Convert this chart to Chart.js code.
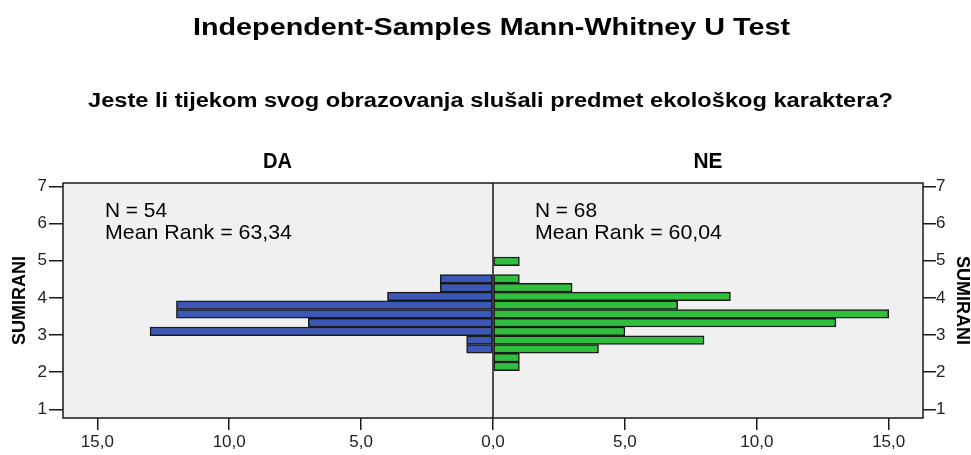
<!DOCTYPE html>
<html>
<head>
<meta charset="utf-8">
<script src="https://cdn.jsdelivr.net/npm/chart.js@4.4.1/dist/chart.umd.min.js"></script>
<style>
  html, body { margin: 0; padding: 0; background: #fff; }
  #wrap { width: 971px; height: 455px; }
</style>
</head>
<body>
<div id="wrap"><canvas id="mwChart" width="971" height="455"></canvas></div>
<script>
// bin centres of SUMIRANI and frequencies per group
const binCenters = [2.155, 2.390, 2.626, 2.861, 3.097, 3.332, 3.567, 3.803, 4.038, 4.274, 4.509, 4.744, 4.980];
const countsDA = [0, 0, 1, 1, 13, 7, 12, 12, 4, 2, 2, 0, 0];
const countsNE = [1, 1, 4, 8, 5, 13, 15, 7, 9, 3, 1, 0, 1];
const xTicks = [-15, -10, -5, 0, 5, 10, 15];
const yTicks = [1, 2, 3, 4, 5, 6, 7];

const FONT = "'Liberation Sans', Arial, sans-serif";

// bars only for non-empty bins, DA goes to the left
const toPoints = (counts, sign) => counts
    .map((c, i) => ({ x: sign * c, y: binCenters[i] }))
    .filter(p => p.x !== 0);

// text squeezed/stretched to the width it has in the original
function fitText(ctx, text, x, y, font, width, align) {
    ctx.save();
    ctx.font = font;
    const w = ctx.measureText(text).width;
    ctx.translate(x, y);
    ctx.scale(width / w, 1);
    ctx.textAlign = align;
    ctx.textBaseline = 'alphabetic';
    ctx.fillStyle = '#000';
    ctx.fillText(text, 0, 0);
    ctx.restore();
}

const framePlugin = {
    id: 'frame',
    beforeDraw(chart) {
        const { ctx, chartArea: a } = chart;
        ctx.save();
        ctx.fillStyle = '#fff';
        ctx.fillRect(0, 0, chart.width, chart.height);
        ctx.fillStyle = '#f0f0f0';
        ctx.fillRect(a.left, a.top, a.right - a.left, a.bottom - a.top);
        ctx.restore();
    },
    afterDatasetsDraw(chart) {
        const { ctx, chartArea: a } = chart;
        const x0 = chart.scales.x.getPixelForValue(0);
        ctx.save();
        ctx.strokeStyle = '#1a1a1a';
        ctx.lineWidth = 1.5;
        ctx.strokeRect(a.left, a.top, a.right - a.left, a.bottom - a.top);
        ctx.beginPath();
        ctx.moveTo(x0, a.top);
        ctx.lineTo(x0, a.bottom);
        ctx.stroke();
        ctx.restore();
    },
    afterDraw(chart) {
        const ctx = chart.ctx;
        fitText(ctx, 'Independent-Samples Mann-Whitney U Test', 491.5, 35, 'bold 23px ' + FONT, 597, 'center');
        fitText(ctx, 'Jeste li tijekom svog obrazovanja slušali predmet ekološkog karaktera?', 490.5, 107, 'bold 20px ' + FONT, 805, 'center');
        fitText(ctx, 'DA', 277.5, 168, 'bold 22px ' + FONT, 29, 'center');
        fitText(ctx, 'NE', 708, 168, 'bold 22px ' + FONT, 29, 'center');
        fitText(ctx, 'N = 54', 105, 217, '21px ' + FONT, 62, 'left');
        fitText(ctx, 'Mean Rank = 63,34', 105, 239, '21px ' + FONT, 187, 'left');
        fitText(ctx, 'N = 68', 535, 217, '21px ' + FONT, 62, 'left');
        fitText(ctx, 'Mean Rank = 60,04', 535, 239, '21px ' + FONT, 187, 'left');
    }
};

const setTicks = (values) => (scale) => { scale.ticks = values.map(v => ({ value: v })); };

const yAxis = (position, width, tickLength, padding, titlePad) => ({
    type: 'linear',
    position: position,
    min: 0.766,
    max: 7.09,
    offset: false,
    afterBuildTicks: setTicks(yTicks),
    afterFit: (s) => { s.width = width; },
    border: { display: false },
    grid: { offset: false, drawOnChartArea: false, drawTicks: true, tickLength: tickLength, tickColor: '#1a1a1a', lineWidth: 1.5 },
    ticks: { padding: padding, color: '#222', font: { family: FONT, size: 17 } },
    title: {
        display: true,
        text: 'SUMIRANI',
        color: '#000',
        font: { family: FONT, size: 18, weight: 'bold', lineHeight: 1 },
        padding: { top: titlePad, bottom: 0 }
    }
});

new Chart(document.getElementById('mwChart'), {
    type: 'bar',
    data: {
        datasets: [{
            label: 'DA',
            data: toPoints(countsDA, -1),
            backgroundColor: '#3b58b6',
            borderColor: '#1a1a1a',
            borderWidth: 1.5,
            borderSkipped: false,
            grouped: false,
            categoryPercentage: 1,
            barPercentage: 1
        }, {
            label: 'NE',
            data: toPoints(countsNE, 1),
            backgroundColor: '#30bf3c',
            borderColor: '#1a1a1a',
            borderWidth: 1.5,
            borderSkipped: false,
            grouped: false,
            categoryPercentage: 1,
            barPercentage: 1
        }]
    },
    options: {
        indexAxis: 'y',
        responsive: false,
        animation: false,
        layout: { padding: { top: 183, left: 0, right: 0, bottom: 0 } },
        plugins: {
            legend: { display: false },
            tooltip: { enabled: false },
            title: { display: false }
        },
        scales: {
            x: {
                type: 'linear',
                min: -16.3,
                max: 16.3,
                afterBuildTicks: setTicks(xTicks),
                afterFit: (s) => { s.height = 37; },
                border: { display: false },
                grid: { drawOnChartArea: false, drawTicks: true, tickLength: 12, tickColor: '#1a1a1a', lineWidth: 1.5 },
                ticks: {
                    padding: 2,
                    color: '#222',
                    font: { family: FONT, size: 17 },
                    callback: (v) => Math.abs(v).toFixed(1).replace('.', ',')
                }
            },
            y: yAxis('left', 63, 14, 2, 11),
            y2: yAxis('right', 48, 13, 0, 0)
        }
    },
    plugins: [framePlugin]
});
</script>
</body>
</html>
